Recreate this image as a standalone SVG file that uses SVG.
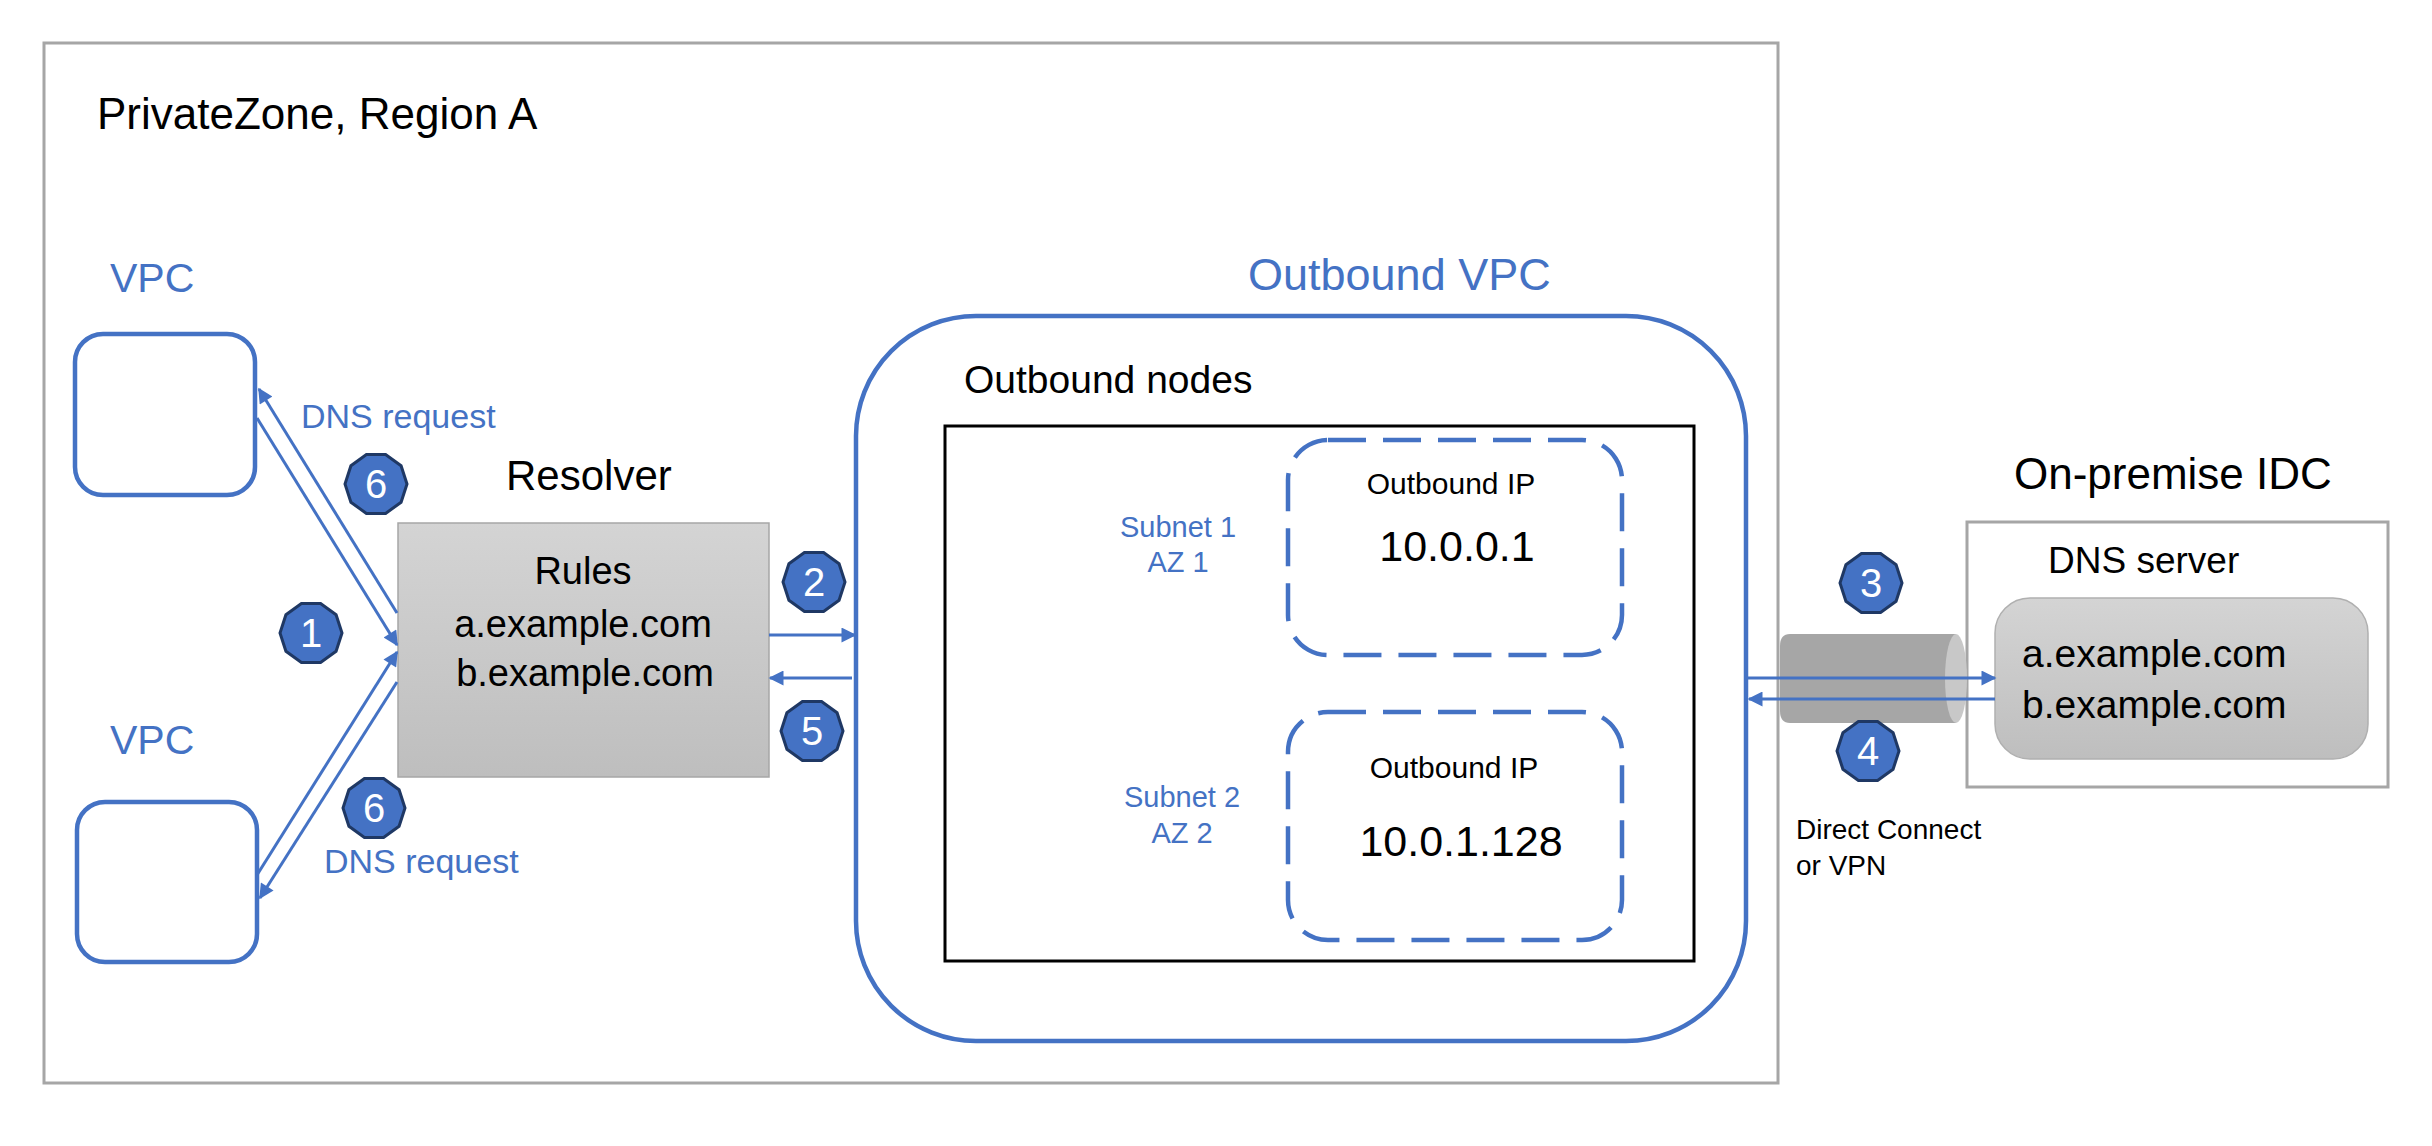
<svg xmlns="http://www.w3.org/2000/svg" width="2432" height="1146" viewBox="0 0 2432 1146">
<style>
text{font-family:"Liberation Sans",Arial,sans-serif;}
.blk{fill:#000;}
.blu{fill:#4472C4;}
.wt{fill:#fff;font-size:40px;text-anchor:middle;}
.conn{stroke:#4472C4;stroke-width:3;fill:none;marker-end:url(#ah);}
.vpc{fill:#fff;stroke:#4472C4;stroke-width:4.5;}
.dash{fill:none;stroke:#4472C4;stroke-width:4.5;stroke-dasharray:38 17;}
.badge{fill:#4472C4;stroke:#1F3864;stroke-width:3;}
</style>
<defs>
<marker id="ah" viewBox="0 0 10 10" refX="9" refY="5" markerWidth="5.5" markerHeight="5" markerUnits="strokeWidth" orient="auto">
<path d="M0,0 L10,5 L0,10 z" fill="#4472C4"/>
</marker>
<linearGradient id="gr" x1="0" y1="0" x2="0" y2="1">
<stop offset="0" stop-color="#D4D4D4"/>
<stop offset="1" stop-color="#BEBEBE"/>
</linearGradient>
<polygon id="bd" points="31,0 25.08,18.22 9.58,29.48 -9.58,29.48 -25.08,18.22 -31,0 -25.08,-18.22 -9.58,-29.48 9.58,-29.48 25.08,-18.22"/>
</defs>
<rect width="2432" height="1146" fill="#fff"/>

<g id="region">
<rect x="44" y="43" width="1734" height="1040" fill="none" stroke="#A6A6A6" stroke-width="3"/>
<text x="97" y="129" font-size="44" class="blk">PrivateZone, Region A</text>
</g>

<g id="vpc-top">
<text x="110" y="292" font-size="41" class="blu">VPC</text>
<rect x="75" y="334" width="180" height="161" rx="28" class="vpc"/>
</g>

<g id="vpc-bottom">
<text x="110" y="754" font-size="41" class="blu">VPC</text>
<rect x="77" y="802" width="180" height="160" rx="28" class="vpc"/>
</g>

<g id="resolver">
<text x="506" y="490" font-size="42" class="blk">Resolver</text>
<rect x="398" y="523" width="371" height="254" fill="url(#gr)" stroke="#A6A6A6" stroke-width="1.5"/>
<text x="583" y="584" font-size="38" text-anchor="middle" class="blk">Rules</text>
<text x="583" y="637" font-size="38" text-anchor="middle" class="blk">a.example.com</text>
<text x="585" y="686" font-size="38" text-anchor="middle" class="blk">b.example.com</text>
</g>

<g id="outbound-vpc">
<text x="1248" y="290" font-size="45" class="blu">Outbound VPC</text>
<rect x="856" y="316" width="890" height="725" rx="120" fill="none" stroke="#4472C4" stroke-width="4.5"/>
<text x="964" y="393" font-size="39" class="blk">Outbound nodes</text>
<rect x="945" y="426" width="749" height="535" fill="none" stroke="#000" stroke-width="3"/>
</g>

<g id="subnet1">
<text x="1178" y="537" font-size="29" text-anchor="middle" class="blu">Subnet 1</text>
<text x="1178" y="572" font-size="29" text-anchor="middle" class="blu">AZ 1</text>
<rect x="1288" y="440" width="334" height="215" rx="40" class="dash"/>
<text x="1451" y="494" font-size="30" text-anchor="middle" class="blk">Outbound IP</text>
<text x="1457" y="561" font-size="43" text-anchor="middle" class="blk">10.0.0.1</text>
</g>

<g id="subnet2">
<text x="1182" y="807" font-size="29" text-anchor="middle" class="blu">Subnet 2</text>
<text x="1182" y="843" font-size="29" text-anchor="middle" class="blu">AZ 2</text>
<rect x="1288" y="712" width="334" height="228" rx="40" class="dash"/>
<text x="1454" y="778" font-size="30" text-anchor="middle" class="blk">Outbound IP</text>
<text x="1461" y="856" font-size="43" text-anchor="middle" class="blk">10.0.1.128</text>
</g>

<g id="idc">
<text x="2014" y="489" font-size="44" class="blk">On-premise IDC</text>
<rect x="1967" y="522" width="421" height="265" fill="#fff" stroke="#A6A6A6" stroke-width="3"/>
<text x="2048" y="573" font-size="37" class="blk">DNS server</text>
<rect x="1995" y="598" width="373" height="161" rx="35" fill="url(#gr)" stroke="#B0B0B0" stroke-width="1.5"/>
<text x="2022" y="667" font-size="39" class="blk">a.example.com</text>
<text x="2022" y="718" font-size="39" class="blk">b.example.com</text>
</g>

<g id="link">
<path d="M1790,634 H1956 V723 H1790 Q1780,723 1780,711 V646 Q1780,634 1790,634 z" fill="#A6A6A6"/>
<ellipse cx="1956" cy="678.5" rx="11" ry="44.5" fill="#C8C8C8"/>
<text x="1796" y="839" font-size="28" class="blk">Direct Connect</text>
<text x="1796" y="875" font-size="28" class="blk">or VPN</text>
</g>

<g id="connectors">
<line x1="397" y1="613" x2="259" y2="389" class="conn"/>
<line x1="257" y1="418" x2="397" y2="645" class="conn"/>
<line x1="257" y1="875" x2="397" y2="652" class="conn"/>
<line x1="397" y1="682" x2="260" y2="898" class="conn"/>
<line x1="769" y1="635" x2="855" y2="635" class="conn"/>
<line x1="852" y1="678" x2="770" y2="678" class="conn"/>
<line x1="1747" y1="678" x2="1995" y2="678" class="conn"/>
<line x1="1995" y1="699" x2="1749" y2="699" class="conn"/>
<text x="301" y="428" font-size="34" class="blu">DNS request</text>
<text x="324" y="873" font-size="34" class="blu">DNS request</text>
</g>

<g id="badges">
<g id="b6a" transform="translate(376,484)"><use href="#bd" class="badge"/><text y="14" class="wt">6</text></g>
<g id="b1" transform="translate(311,633)"><use href="#bd" class="badge"/><text y="14" class="wt">1</text></g>
<g id="b6b" transform="translate(374,808)"><use href="#bd" class="badge"/><text y="14" class="wt">6</text></g>
<g id="b2" transform="translate(814,582)"><use href="#bd" class="badge"/><text y="14" class="wt">2</text></g>
<g id="b5" transform="translate(812,731)"><use href="#bd" class="badge"/><text y="14" class="wt">5</text></g>
<g id="b3" transform="translate(1871,583)"><use href="#bd" class="badge"/><text y="14" class="wt">3</text></g>
<g id="b4" transform="translate(1868,751)"><use href="#bd" class="badge"/><text y="14" class="wt">4</text></g>
</g>
</svg>
